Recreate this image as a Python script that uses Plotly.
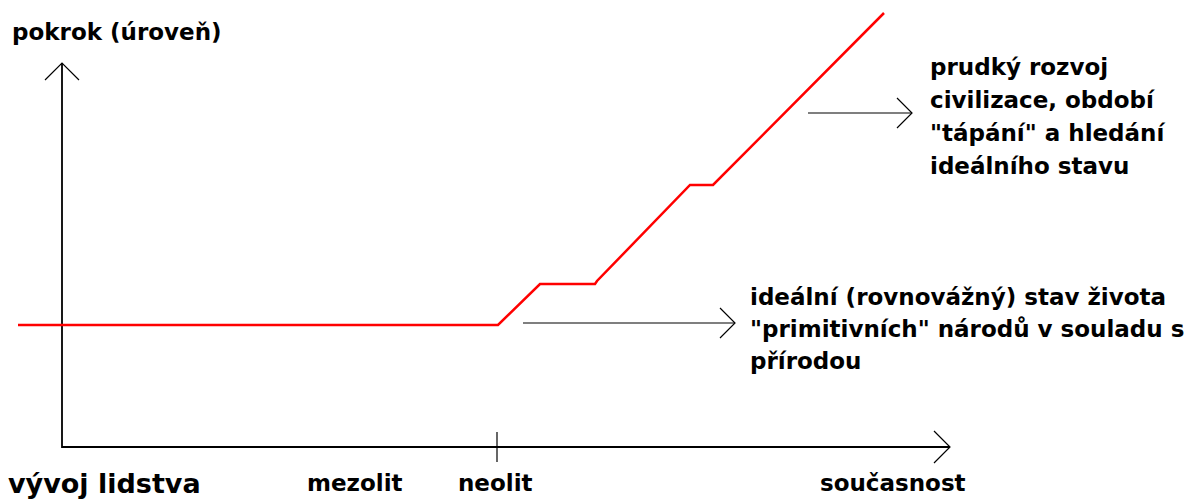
import plotly.graph_objects as go

# schematic: horizontal position = "time", vertical = level (pixel-like units, y grows downward)
vyvoj_x = [18, 498, 540, 595, 597, 690, 713, 884]
vyvoj_y = [325, 325, 284, 284, 281, 185, 185, 13]

osa_x = [62, 62, 950]
osa_y = [63, 447, 447]

obdobi = ["mezolit", "neolit", "současnost"]
obdobi_x = [355, 495, 893]

popis_horni = ["prudký rozvoj", "civilizace, období", '"tápání" a hledání', "ideálního stavu"]
popis_dolni = ["ideální (rovnovážný) stav života", '"primitivních" národů v souladu s', "přírodou"]

FONT = "DejaVu Sans, Verdana, sans-serif"
VEL = 23

fig = go.Figure()

# osy
fig.add_trace(go.Scatter(x=osa_x, y=osa_y, mode="lines",
                         line=dict(color="black", width=1.8), hoverinfo="skip"))


def sipka(fig, x0, x1, y, w=1.2):
    fig.add_trace(go.Scatter(x=[x0, x1], y=[y, y], mode="lines",
                             line=dict(color="black", width=w), hoverinfo="skip"))
    fig.add_trace(go.Scatter(x=[x1 - 15, x1, x1 - 15], y=[y - 15, y, y + 15], mode="lines",
                             line=dict(color="black", width=w), hoverinfo="skip"))


# hrot svisle osy
fig.add_trace(go.Scatter(x=[45, 62, 79], y=[80, 63, 80], mode="lines",
                         line=dict(color="black", width=1.2), hoverinfo="skip"))
# hrot vodorovne osy
fig.add_trace(go.Scatter(x=[934, 950, 934], y=[431, 447, 463], mode="lines",
                         line=dict(color="black", width=1.2), hoverinfo="skip"))
# znacka neolit
fig.add_trace(go.Scatter(x=[497, 497], y=[432, 462], mode="lines",
                         line=dict(color="black", width=1.2), hoverinfo="skip"))

# sipky k popisum
sipka(fig, 808, 912, 113)
sipka(fig, 523, 735, 323)

# cervena krivka
fig.add_trace(go.Scatter(x=vyvoj_x, y=vyvoj_y, mode="lines",
                         line=dict(color="#ff0000", width=2.5), hoverinfo="skip"))

ann = []
ann.append(dict(x=10, y=32, text="<b>pokrok (úroveň)</b>", xanchor="left", yanchor="middle",
                showarrow=False, font=dict(size=VEL, color="black", family=FONT)))
ann.append(dict(x=6, y=483, text="<b>vývoj lidstva</b>", xanchor="left", yanchor="middle",
                showarrow=False, font=dict(size=27, color="black", family=FONT)))
for t, xx in zip(obdobi, obdobi_x):
    ann.append(dict(x=xx, y=483, text=f"<b>{t}</b>", xanchor="center", yanchor="middle",
                    showarrow=False, font=dict(size=VEL, color="black", family=FONT)))
for i, t in enumerate(popis_horni):
    ann.append(dict(x=928, y=67 + i * 33, text=f"<b>{t}</b>", xanchor="left", yanchor="middle",
                    showarrow=False, font=dict(size=VEL, color="black", family=FONT)))
for i, t in enumerate(popis_dolni):
    ann.append(dict(x=748, y=297 + i * 32, text=f"<b>{t}</b>", xanchor="left", yanchor="middle",
                    showarrow=False, font=dict(size=VEL, color="black", family=FONT)))

fig.update_layout(
    width=1194, height=501,
    margin=dict(l=0, r=0, t=0, b=0),
    paper_bgcolor="white", plot_bgcolor="white",
    showlegend=False,
    xaxis=dict(range=[0, 1194], visible=False, fixedrange=True),
    yaxis=dict(range=[501, 0], visible=False, fixedrange=True),
    annotations=ann,
)

fig.write_html("out.html", config={"displayModeBar": False},
               post_script="document.body.style.margin='0';document.body.style.overflow='hidden';")
